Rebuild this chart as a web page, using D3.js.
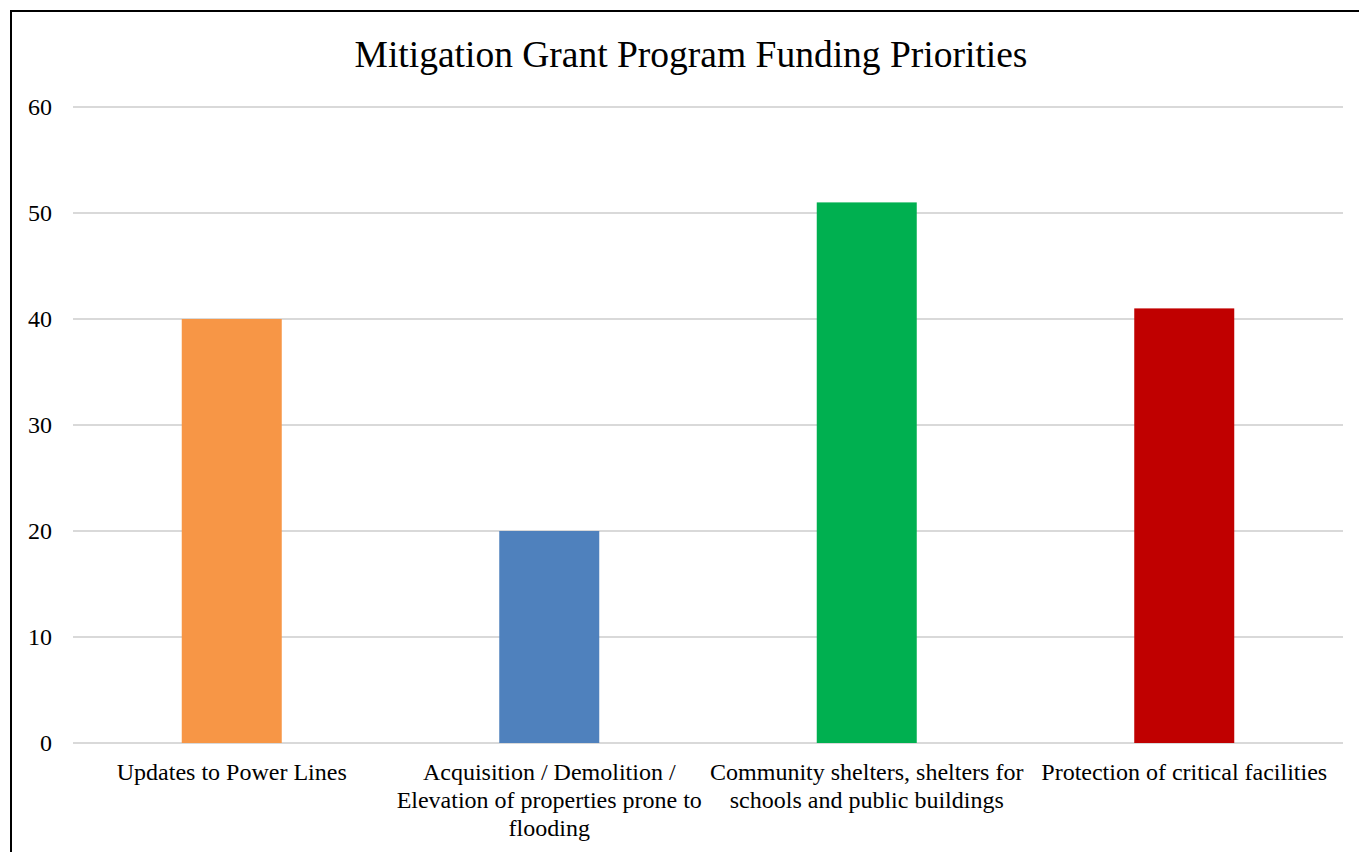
<!DOCTYPE html>
<html>
<head>
<meta charset="utf-8">
<script src="https://cdn.jsdelivr.net/npm/d3@7"></script>
<style>
  html, body { margin: 0; padding: 0; background: #fff; }
  svg { display: block; }
  text { font-family: "Liberation Serif", "Times New Roman", serif; fill: #000; }
</style>
</head>
<body>
<svg id="chart" width="1359" height="852"></svg>
<script>
const categories = [
  ["Updates to Power Lines"],
  ["Acquisition / Demolition /", "Elevation of properties prone to", "flooding"],
  ["Community shelters, shelters for", "schools and public buildings"],
  ["Protection of critical facilities"]
];
const values = [40, 20, 51, 41];
const colors = ["#f79646", "#4f81bd", "#00b050", "#c00000"];
const yTicks = [0, 10, 20, 30, 40, 50, 60];
const title = "Mitigation Grant Program Funding Priorities";

const svg = d3.select("#chart");
const W = 1359, H = 852;
const m = { left: 73, right: 16, top: 107, bottom: 109 };

// chart frame
svg.append("rect")
  .attr("x", 11).attr("y", 11)
  .attr("width", W + 20).attr("height", H + 20)
  .attr("fill", "none").attr("stroke", "#000").attr("stroke-width", 2);

svg.append("text")
  .attr("x", 691).attr("y", 67)
  .attr("text-anchor", "middle")
  .style("font-size", "37.5px")
  .text(title);

const idx = d3.range(categories.length);
const x = d3.scaleBand().domain(idx).range([m.left, W - m.right]).paddingInner(0).paddingOuter(0);
const y = d3.scaleLinear().domain([0, 60]).range([H - m.bottom, m.top]);

// gridlines
svg.append("g").selectAll("line").data(yTicks).join("line")
  .attr("x1", m.left).attr("x2", W - m.right)
  .attr("y1", d => y(d)).attr("y2", d => y(d))
  .attr("stroke", "#d9d9d9").attr("stroke-width", 2);

// y axis labels
const yAxis = d3.axisLeft(y).tickValues(yTicks).tickSize(0).tickPadding(0);
const gy = svg.append("g").attr("transform", "translate(52,0)").call(yAxis);
gy.select(".domain").remove();
gy.selectAll("text")
  .style("font-size", "24px")
  .style("font-family", "'Liberation Serif', 'Times New Roman', serif")
  .attr("text-anchor", "end")
  .attr("dy", "0.32em");

// bars
const barW = 100;
svg.append("g").selectAll("rect").data(idx).join("rect")
  .attr("x", i => x(i) + x.bandwidth() / 2 - barW / 2)
  .attr("width", barW)
  .attr("y", i => y(values[i]))
  .attr("height", i => y(0) - y(values[i]))
  .attr("fill", i => colors[i]);

// category labels
const lab = svg.append("g").selectAll("text").data(idx).join("text")
  .attr("text-anchor", "middle")
  .style("font-size", "24px")
  .attr("x", i => x(i) + x.bandwidth() / 2)
  .attr("y", 780);
lab.each(function(i) {
  const t = d3.select(this);
  categories[i].forEach((line, k) => {
    t.append("tspan")
      .attr("x", x(i) + x.bandwidth() / 2)
      .attr("y", 780 + k * 28)
      .text(line);
  });
});
</script>
</body>
</html>
